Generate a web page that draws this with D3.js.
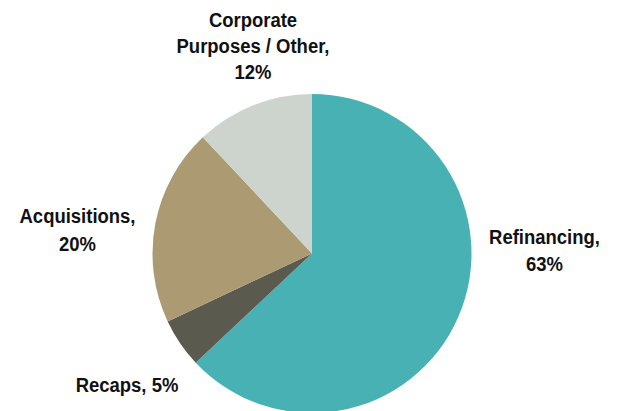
<!DOCTYPE html>
<html>
<head>
<meta charset="utf-8">
<script src="https://cdn.jsdelivr.net/npm/d3@7"></script>
<style>
  html, body { margin: 0; padding: 0; background: #fff; }
  svg text { font-family: "Liberation Sans", Arial, sans-serif; font-weight: bold; fill: #111; }
</style>
</head>
<body>
<svg id="chart" width="620" height="411"></svg>
<script>
// data
const categories = ['Refinancing', 'Recaps', 'Acquisitions', 'Corporate Purposes / Other'];
const shares = [63, 5, 20, 12];
const colors = ['#48b1b4', '#5a5a4f', '#ab9a72', '#cdd3cd'];

// label lines as shown (line breaks of the original)
const labelLines = [
    ['Refinancing,', '63%'],
    ['Recaps, 5%'],
    ['Acquisitions,', '20%'],
    ['Corporate', 'Purposes / Other,', '12%']
];

let svg = d3.select('#chart'),
    cx = 312,   // pie center
    cy = 253.5,
    r = 159.5;

// label anchor points (center of first baseline), line step
const labelAt = [[544.5, 243.5], [127, 391.5], [77.5, 223], [253, 27]];
const lineStep = [28, 0, 28, 25.8];

let pie = d3.pie()
    .sort(null)
    .value(d => d);

let arc = d3.arc()
    .innerRadius(0)
    .outerRadius(r);

let g = svg.append('g')
    .attr('transform', 'translate(' + cx + ',' + cy + ')');

g.selectAll('path')
    .data(pie(shares))
    .enter()
    .append('path')
    .attr('d', arc)
    .attr('fill', (d, i) => colors[i]);

let labels = svg.selectAll('text.lbl')
    .data(categories)
    .enter()
    .append('text')
    .attr('class', 'lbl')
    .attr('text-anchor', 'middle')
    .attr('font-size', 21)
    .attr('transform', (d, i) => 'translate(' + labelAt[i][0] + ',' + labelAt[i][1] + ') scale(0.88,1)');

labels.each(function (d, i) {
    let t = d3.select(this);
    labelLines[i].forEach((line, j) => {
        t.append('tspan')
            .attr('x', 0)
            .attr('y', j * lineStep[i])
            .text(line);
    });
});
</script>
</body>
</html>
